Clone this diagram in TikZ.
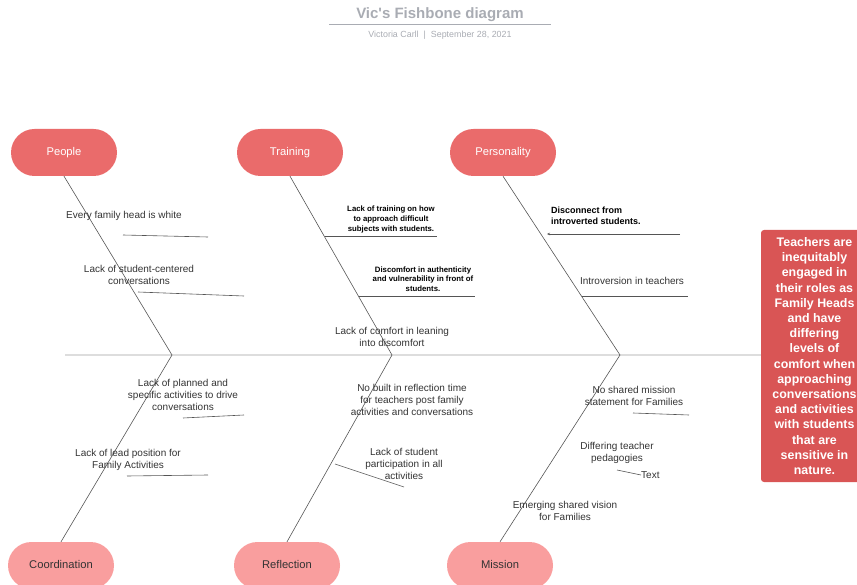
\documentclass[tikz,border=0pt]{standalone}
\usepackage{fontspec}
\setmainfont{Liberation Sans}
\usetikzlibrary{arrows.meta}
\definecolor{topfill}{HTML}{EA6B6B}
\definecolor{botfill}{HTML}{F99E9E}
\definecolor{boxfill}{HTML}{D95555}
\definecolor{bonec}{HTML}{555555}
\definecolor{spinec}{HTML}{DDDDDD}
\definecolor{titlec}{HTML}{A9ACB3}
\definecolor{labc}{HTML}{333333}
\begin{document}
\begin{tikzpicture}[x=1pt,y=-1pt,
  cat/.style={rounded corners=23.5pt, minimum width=106pt, minimum height=47pt, inner sep=0pt, font=\fontsize{11.2}{13}\selectfont},
  topcat/.style={cat, fill=topfill, text=white},
  botcat/.style={cat, fill=botfill, text=labc},
  lab/.style={align=center, text=labc, font=\fontsize{10}{12}\selectfont, inner sep=0pt},
  blab/.style={align=center, text=black, font=\fontsize{7.8}{9.6}\selectfont\bfseries, inner sep=0pt},
  boneline/.style={draw=bonec, line width=0.6pt},
  subline/.style={draw=bonec, line width=0.6pt},
]
\useasboundingbox (0,0) rectangle (857,585);
\clip (0,0) rectangle (857,585);

% title
\node[text=titlec, font=\fontsize{15}{17}\selectfont\bfseries, inner sep=0pt] (title) at (440,15) {Vic\textquotesingle s Fishbone diagram};
\coordinate (ulA) at (329,25);
\coordinate (ulB) at (551,25);
\draw[draw=titlec, line width=1pt] (ulA) -- (ulB);
\node[text=titlec, font=\fontsize{8.9}{10}\selectfont, inner sep=0pt] (sub) at (440,35) {Victoria Carll \ | \ September 28, 2021};

% spine
\coordinate (spineL) at (65,355);
\coordinate (spineR) at (761,355);
\draw[draw=spinec, line width=1.5pt] (spineL) -- (spineR);

% result box
\node[fill=boxfill, rounded corners=3pt, minimum width=107pt, minimum height=252pt, inner sep=0pt,
      text=white, align=center, font=\fontsize{12.4}{15.2}\selectfont\bfseries] (effect) at (814.5,356)
 {Teachers are\\inequitably\\engaged in\\their roles as\\Family Heads\\and have\\differing\\levels of\\comfort when\\approaching\\conversations\\and activities\\with students\\that are\\sensitive in\\nature.};

% categories
\node[topcat] (people) at (64,152.5) {People};
\node[topcat] (training) at (290,152.5) {Training};
\node[topcat] (personality) at (503,152.5) {Personality};
\node[botcat] (coordination) at (61,565.5) {\raisebox{2.5pt}{Coordination}};
\node[botcat] (reflection) at (287,565.5) {\raisebox{2.5pt}{Reflection}};
\node[botcat] (mission) at (500,565.5) {\raisebox{2.5pt}{Mission}};

% joints on spine
\coordinate (j1) at (172,355);
\coordinate (j2) at (392,355);
\coordinate (j3) at (620,355);

\draw[boneline] (people.south) -- (j1) -- (coordination.north);
\draw[boneline] (training.south) -- (j2) -- (reflection.north);
\draw[boneline] (personality.south) -- (j3) -- (mission.north);

% People causes
\node[lab] (p1) at (124,216) {Every family head is white};
\coordinate (p1a) at (123,235); \coordinate (p1b) at (208,237);
\draw[subline] (p1a) -- (p1b);
\node[lab] (p2) at (139,275) {Lack of student-centered\\conversations};
\coordinate (p2a) at (138,292); \coordinate (p2b) at (244,296);
\draw[subline] (p2a) -- (p2b);

% Training causes
\node[blab] (t1) at (391,219.5) {Lack of training on how\\to approach difficult\\subjects with students.};
\coordinate (t1a) at (325,236); \coordinate (t1b) at (437,236);
\draw[subline] (t1a) -- (t1b);
\node[blab] (t2) at (423,279) {Discomfort in authenticity\\and vulnerability in front of\\students.};
\coordinate (t2a) at (359,296); \coordinate (t2b) at (475,296);
\draw[subline] (t2a) -- (t2b);
\node[lab] (t3) at (392,337) {Lack of comfort in leaning\\into discomfort};

% Personality causes
\node[align=left, anchor=west, text=black, font=\fontsize{9}{11}\selectfont\bfseries, inner sep=0pt] (s1) at (551,215.5) {Disconnect from\\introverted students.};
\coordinate (s1a) at (680,234); \coordinate (s1b) at (547,234);
\draw[subline, -{Stealth[length=3pt,width=2.5pt]}] (s1a) -- (s1b);
\node[lab] (s2) at (632,281) {Introversion in teachers};
\coordinate (s2a) at (582,296); \coordinate (s2b) at (688,296);
\draw[subline] (s2a) -- (s2b);

% Coordination causes
\node[lab] (c1) at (183,395) {Lack of planned and\\specific activities to drive\\conversations};
\coordinate (c1a) at (183,418); \coordinate (c1b) at (244,415);
\draw[subline] (c1a) -- (c1b);
\node[lab] (c2) at (128,459.5) {Lack of lead position for\\Family Activities};
\coordinate (c2a) at (127,476); \coordinate (c2b) at (208,475);
\draw[subline] (c2a) -- (c2b);

% Reflection causes
\node[lab] (r1) at (412,400) {No built in reflection time\\for teachers post family\\activities and conversations};
\node[lab] (r2) at (404,464) {Lack of student\\participation in all\\activities};
\coordinate (r2a) at (335,464); \coordinate (r2b) at (404,487);
\draw[subline] (r2a) -- (r2b);

% Mission causes
\node[lab] (m1) at (634,396) {No shared mission\\statement for Families};
\coordinate (m1a) at (633,413); \coordinate (m1b) at (689,415);
\draw[subline] (m1a) -- (m1b);
\node[lab] (m2) at (617,453) {Differing teacher\\pedagogies};
\node[lab, anchor=west] (m2t) at (641,475) {Text};
\coordinate (m2a) at (617,470);
\draw[subline] (m2a) -- (m2t.west);
\node[lab] (m3) at (565,511) {Emerging shared vision\\for Families};
\end{tikzpicture}
\end{document}
